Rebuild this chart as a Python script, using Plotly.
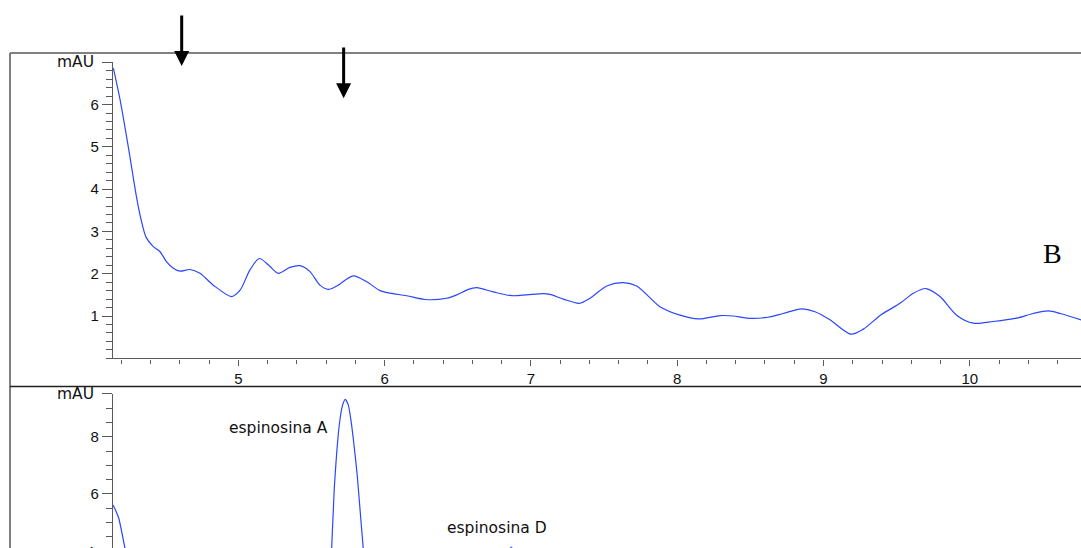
import plotly.graph_objects as go

# ---------------- data ----------------
top_time = [4.146, 4.192, 4.248, 4.305, 4.334, 4.37, 4.419, 4.465, 4.51, 4.556,
            4.601, 4.67, 4.738, 4.829, 4.955, 5.012, 5.08, 5.144, 5.217, 5.273, 5.353,
            5.422, 5.49, 5.558, 5.615, 5.673, 5.786, 5.878, 5.969, 6.037, 6.151, 6.276,
            6.424, 6.493, 6.572, 6.63, 6.743, 6.869, 6.971, 7.085, 7.13, 7.222, 7.331,
            7.404, 7.518, 7.632, 7.723, 7.882, 8.019, 8.145, 8.293, 8.384, 8.475, 8.62,
            8.725, 8.851, 8.942, 9.044, 9.188, 9.272, 9.398, 9.523, 9.614, 9.701, 9.796,
            9.91, 10.024, 10.16, 10.32, 10.434, 10.537, 10.617, 10.76]
top_mau = [6.86, 6.11, 5.00, 3.80, 3.30, 2.86, 2.64, 2.52, 2.28, 2.13,
           2.06, 2.10, 2.01, 1.73, 1.46, 1.61, 2.09, 2.36, 2.17, 2.01, 2.15,
           2.19, 2.05, 1.73, 1.63, 1.71, 1.95, 1.81, 1.60, 1.54, 1.48, 1.39,
           1.42, 1.50, 1.63, 1.67, 1.57, 1.48, 1.50, 1.53, 1.51, 1.40, 1.30,
           1.42, 1.71, 1.79, 1.71, 1.22, 1.02, 0.93, 1.01, 1.00, 0.95, 0.97,
           1.06, 1.17, 1.10, 0.91, 0.57, 0.69, 1.04, 1.30, 1.54, 1.65, 1.46,
           1.02, 0.83, 0.87, 0.95, 1.06, 1.12, 1.06, 0.91]

bot_time = [4.144, 4.182, 4.226, 4.28, 4.40, 4.70, 5.00, 5.30, 5.50, 5.60, 5.625,
            5.638, 5.656, 5.672, 5.690, 5.710, 5.731, 5.752, 5.772, 5.791, 5.812, 5.833,
            5.854, 5.875, 5.91, 6.05, 6.40, 6.70, 6.80, 6.865, 6.93, 7.03, 7.40, 8.00,
            9.00, 10.00, 10.76]
bot_mau = [5.62, 5.17, 4.10, 3.00, 1.80, 1.20, 1.00, 0.90, 0.95, 1.60, 3.00,
           4.10, 6.20, 7.40, 8.40, 9.05, 9.30, 9.10, 8.50, 7.70, 6.70, 5.40,
           4.10, 3.00, 1.80, 0.90, 1.00, 1.50, 3.30, 4.15, 3.30, 1.50, 1.00, 0.80,
           0.80, 0.70, 0.70]

x_ticks = [5, 6, 7, 8, 9, 10]
top_yticks = [1, 2, 3, 4, 5, 6]
bot_yticks = [6, 8]
unit_label = "mAU"
arrow_times = [4.613, 5.72]
peak_names = ["espinosina A", "espinosina D"]
peak_label_time = [5.277, 6.766]
peak_label_mau = [8.30, 4.81]
panel_label = "B"

# ---------------- layout helpers ----------------
W, H = 1081, 548


def px(xp):
    return xp / W


def py(yp):
    return 1 - yp / H


axis_col = "#5a5a5a"
line_col = "#2a46ff"
txt_col = "#111111"

fig = go.Figure()
fig.add_trace(go.Scatter(x=top_time, y=top_mau, mode="lines", xaxis="x", yaxis="y",
                         line=dict(color=line_col, width=1.2, shape="spline", smoothing=0.8),
                         hoverinfo="skip"))
fig.add_trace(go.Scatter(x=bot_time, y=bot_mau, mode="lines", xaxis="x2", yaxis="y2",
                         line=dict(color=line_col, width=1.2, shape="spline", smoothing=0.6),
                         hoverinfo="skip"))

xrange = [4.1435, 10.76]
common = dict(showgrid=False, zeroline=False, showline=True, linecolor=axis_col, linewidth=1.4,
              ticks="outside", tickcolor=axis_col, tickwidth=1.3)

fig.update_layout(
    width=W, height=H, margin=dict(l=0, r=0, t=0, b=0),
    paper_bgcolor="white", plot_bgcolor="white", showlegend=False,
    font=dict(family="Liberation Sans, Arial, sans-serif", size=15, color=txt_col),
    xaxis=dict(domain=[px(113), 1], range=xrange, anchor="y", tickmode="array",
               tickvals=x_ticks, ticklen=6,
               minor=dict(tickmode="linear", tick0=0, dtick=0.2, ticks="outside", ticklen=4,
                          tickwidth=1.2, tickcolor=axis_col, showgrid=False),
               **common),
    yaxis=dict(domain=[py(358.3), py(62.3)], range=[0, 7], anchor="x", tickmode="array",
               tickvals=top_yticks + [7], ticktext=[str(v) for v in top_yticks] + [""],
               ticklen=10,
               minor=dict(tickmode="linear", tick0=0, dtick=0.2, ticks="outside", ticklen=6,
                          tickwidth=1.2, tickcolor=axis_col, showgrid=False),
               **common),
    xaxis2=dict(domain=[px(113), 1], range=xrange, anchor="y2", visible=False),
    yaxis2=dict(domain=[0, py(393.7)], range=[4.115, 9.5], anchor="x2", tickmode="array",
                tickvals=[4] + bot_yticks + [9.5], ticktext=["4"] + [str(v) for v in bot_yticks] + [""],
                ticklen=10,
                minor=dict(tickmode="linear", tick0=0, dtick=0.5, ticks="outside", ticklen=6,
                           tickwidth=1.2, tickcolor=axis_col, showgrid=False),
                **common),
)

# frame lines
fig.add_shape(type="line", xref="paper", yref="paper", x0=px(10), x1=px(10), y0=0, y1=py(53),
              line=dict(color="#808080", width=2))
fig.add_shape(type="line", xref="paper", yref="paper", x0=px(10), x1=1, y0=py(53), y1=py(53),
              line=dict(color="#808080", width=2))
fig.add_shape(type="line", xref="paper", yref="paper", x0=px(10), x1=1, y0=py(386.5), y1=py(386.5),
              line=dict(color="#202020", width=1.3))

# unit labels
for ypix in (62.3, 393.7):
    fig.add_annotation(text=unit_label, xref="paper", yref="paper", x=px(96), y=py(ypix),
                       xanchor="right", yanchor="middle", showarrow=False,
                       font=dict(family="DejaVu Sans", size=15.5, color=txt_col))
# partially visible "4" at the bottom edge (cut off in the reference as well)
fig.add_annotation(text="4", xref="paper", yref="paper", x=px(96), y=py(551.2),
                   xanchor="right", yanchor="middle", showarrow=False,
                   font=dict(size=15, color=txt_col))

# arrows
for t, tip, tail in zip(arrow_times, [66, 98.3], [14, 46]):
    fig.add_annotation(x=t, xref="x", y=py(tip), yref="paper", text="", showarrow=True,
                       ax=0, ay=-(tip - tail), arrowhead=2, arrowsize=1, arrowwidth=3,
                       arrowcolor="black", standoff=0)

# peak labels
for name, t, v in zip(peak_names, peak_label_time, peak_label_mau):
    fig.add_annotation(text=name, x=t, y=v, xref="x2", yref="y2", showarrow=False,
                       xanchor="center", yanchor="middle",
                       font=dict(family="DejaVu Sans", size=15.5, color=txt_col))

# panel letter
fig.add_annotation(text=panel_label, x=10.562, y=2.49, xref="x", yref="y", showarrow=False,
                   font=dict(family="Liberation Serif, Times New Roman, serif", size=28, color="black"))

fig.write_html("out.html")
